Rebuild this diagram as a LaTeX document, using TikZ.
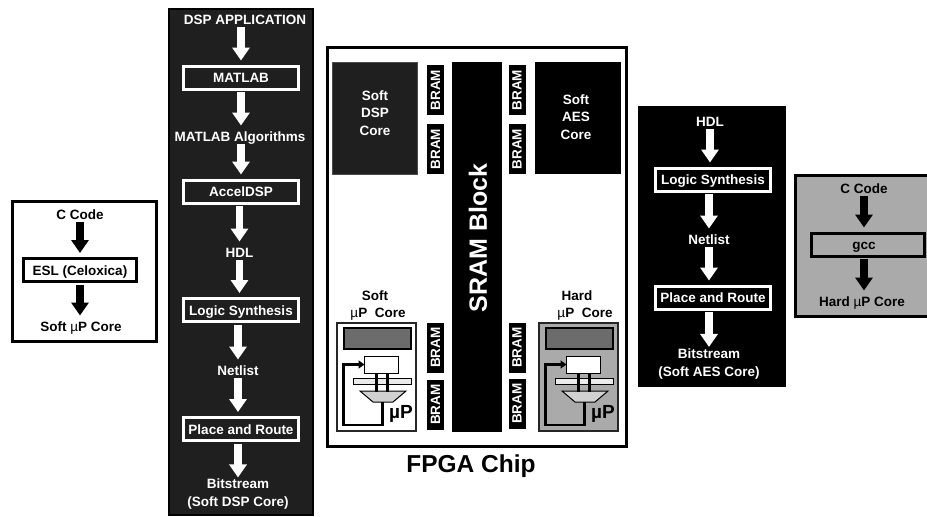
\documentclass[tikz,border=0pt]{standalone}
\usepackage{fontspec}
\setmainfont{Liberation Sans}
\usetikzlibrary{arrows.meta}
\definecolor{panelgray}{HTML}{AAAAAA}
\definecolor{coredark}{HTML}{1F1F1F}
\definecolor{regdark}{HTML}{6C6C6C}
\newcommand{\lblfont}{\fontsize{13.5}{17.5}\selectfont\bfseries}
\newcommand{\thinmu}{{\mdseries µ}}
\tikzset{
	lbl/.style={font=\lblfont, inner sep=0pt, outer sep=0pt, align=center, text height=10pt, text depth=0pt},
	whitelbl/.style={lbl, text=white},
	bitlbl/.style={font=\lblfont, inner sep=0pt, outer sep=0pt, align=center, text=white},
	toolbox/.style={draw, line width=3pt, minimum width=114.5pt, minimum height=23pt, inner sep=0pt, outer sep=0pt, font=\lblfont, text height=10pt, text depth=0pt},
	whitebox/.style={toolbox, draw=white, text=white},
	arw/.style={line width=7.5pt, -{Triangle[width=17pt,length=13pt]}, shorten <=3pt, shorten >=5.5pt},
	whitearw/.style={arw, draw=white, -{Triangle[width=17pt,length=13pt,fill=white]}},
	brambox/.style={fill=black, text=white, font=\lblfont, minimum width=50pt, minimum height=17pt, inner sep=0pt, outer sep=0pt, rotate=90},
	corelbl/.style={font=\lblfont, text=white, inner sep=0pt, align=center},
	reglbl/.style={draw=black, inner sep=0pt, outer sep=0pt}
}
\begin{document}
\begin{tikzpicture}[x=1pt,y=-1pt]
	\useasboundingbox (0,0) rectangle (927,517);

	\draw[line width=3pt] (12.5,201.5) rectangle (156.5,341.5);
	\node[lbl] (ccode) at (80,214) {C Code};
	\node[toolbox, minimum width=113pt] (esl) at (80,270) {ESL (Celoxica)};
	\node[lbl] (softup) at (81,326) {Soft \thinmu P Core};
	\draw[arw] (ccode.south) -- (esl.north);
	\draw[arw] (esl.south) -- (softup.north -| esl);

	\draw[fill=coredark, line width=2pt] (169,9) rectangle (313,515);
	\node[whitelbl] (dspapp) at (245,19) {DSP APPLICATION};
	\node[whitebox] (matlab) at (241,77.5) {MATLAB};
	\node[whitelbl] (algos) at (240,136) {MATLAB Algorithms};
	\node[whitebox] (acceldsp) at (241,191.5) {AccelDSP};
	\node[whitelbl] (hdlA) at (239.5,252) {HDL};
	\node[whitebox] (synthA) at (241,310) {Logic Synthesis};
	\node[whitelbl] (netA) at (238,370) {Netlist};
	\node[whitebox] (parA) at (241,429) {Place and Route};
	\node[bitlbl] (bitA) at (238,494) {Bitstream\\(Soft DSP Core)};
	\draw[whitearw] (dspapp.south -| matlab) -- (matlab.north);
	\draw[whitearw] (matlab.south) -- (algos.north -| matlab);
	\draw[whitearw] (algos.south -| matlab) -- (acceldsp.north);
	\draw[whitearw] (acceldsp.south -| hdlA) -- (hdlA.north);
	\draw[whitearw] (hdlA.south) -- (synthA.north -| hdlA);
	\draw[whitearw] (synthA.south -| netA) -- (netA.north);
	\draw[whitearw] (netA.south) -- (parA.north -| netA);
	\draw[whitearw, shorten >=1.5pt] (parA.south -| bitA) -- (bitA.north);

	\draw[line width=3pt] (327.5,47.5) rectangle (626.5,446.5);
	\node[font=\fontsize{24.5}{28}\selectfont\bfseries, inner sep=0pt] (fpga) at (471,466) {FPGA Chip};
	\node[fill=coredark, draw=black!70, line width=1pt, minimum width=85pt, minimum height=112pt, inner sep=0pt] (softdsp) at (374.5,118) {};
	\node[corelbl] at (375,113) {Soft\\DSP\\Core};
	\node[fill=black, minimum width=86pt, minimum height=112pt, inner sep=0pt] (softaes) at (578,118) {};
	\node[corelbl] at (576,117) {Soft\\AES\\Core};
	\node[fill=black, minimum width=50pt, minimum height=370pt, inner sep=0pt] (sram) at (477,247) {};
	\node[font=\fontsize{25}{28}\selectfont\bfseries, text=white, rotate=90, inner sep=0pt] (sramlbl) at (478,238) {SRAM Block};
	\foreach \bx/\by/\nm in {435.5/90/a,435.5/149/b,435.5/347.5/c,435.5/404.5/d,517/90/e,517/149/f,517/347.5/g,517/403.5/h}
		\node[brambox] (bram\nm) at (\bx,\by) {BRAM};

	\node[lbl] (softlbl) at (375,295) {Soft};
	\node[lbl] (softuplbl) at (378,312) {\thinmu P\ \ Core};
	\node[lbl] (hardlbl) at (577,295) {Hard};
	\node[lbl] (harduplbl) at (585,312) {\thinmu P\ \ Core};
	\foreach \dx/\bg/\nm in {0/white/soft,202/panelgray/hard}{
		\begin{scope}[shift={(\dx,0)}]
			\draw[fill=\bg, line width=2pt, draw=black!85] (337,323) rectangle (416,431);
			\draw[fill=regdark, line width=2pt] (344,328) rectangle (411,349);
			\node[reglbl, fill=white, line width=1pt, minimum width=34pt, minimum height=17pt] (reg\nm) at (381.5,364.5) {};
			\draw[fill=black!8, line width=.8pt] (353,378.5) rectangle (411,384);
			\draw[fill=black!18, line width=1pt] (360,391) -- (406,391) -- (393,402) -- (373,402) -- cycle;
			\coordinate (alu\nm) at (382.5,402);
			\draw[line width=3pt] ([xshift=-5.5pt]reg\nm.south) -- ++(0,19);
			\draw[line width=3pt] ([xshift=5.5pt]reg\nm.south) -- ++(0,19);
			\coordinate (fb\nm) at (343.5,425);
			\draw[line width=2.3pt, -{Triangle[width=8pt,length=6pt]}] (alu\nm) |- (fb\nm) |- (reg\nm.west);
			\node[font=\fontsize{19}{22}\selectfont\bfseries, inner sep=0pt] (up\nm) at (401,414) {µP};
		\end{scope}
	}

	\fill[black] (638,106) rectangle (786,387);
	\node[whitelbl] (hdlB) at (710,121) {HDL};
	\node[whitebox] (synthB) at (713,179.5) {Logic Synthesis};
	\node[whitelbl] (netB) at (709,239) {Netlist};
	\node[whitebox] (parB) at (713,297.5) {Place and Route};
	\node[bitlbl] (bitB) at (709,364) {Bitstream\\(Soft AES Core)};
	\draw[whitearw] (hdlB.south) -- (synthB.north -| hdlB);
	\draw[whitearw] (synthB.south -| netB) -- (netB.north);
	\draw[whitearw] (netB.south) -- (parB.north -| netB);
	\draw[whitearw, shorten >=2pt] (parB.south -| bitB) -- (bitB.north);

	\draw[fill=panelgray, line width=3pt] (795,175.5) rectangle (929,316.5);
	\node[lbl] (ccodeB) at (864,188) {C Code};
	\node[toolbox, minimum width=113pt] (gcc) at (868,244.5) {\hspace*{-8pt}gcc};
	\node[lbl] (hardup) at (862,301) {Hard \thinmu P Core};
	\draw[arw] (ccodeB.south) -- (gcc.north -| ccodeB);
	\draw[arw] (gcc.south -| ccodeB) -- (hardup.north -| ccodeB);
\end{tikzpicture}
\end{document}
